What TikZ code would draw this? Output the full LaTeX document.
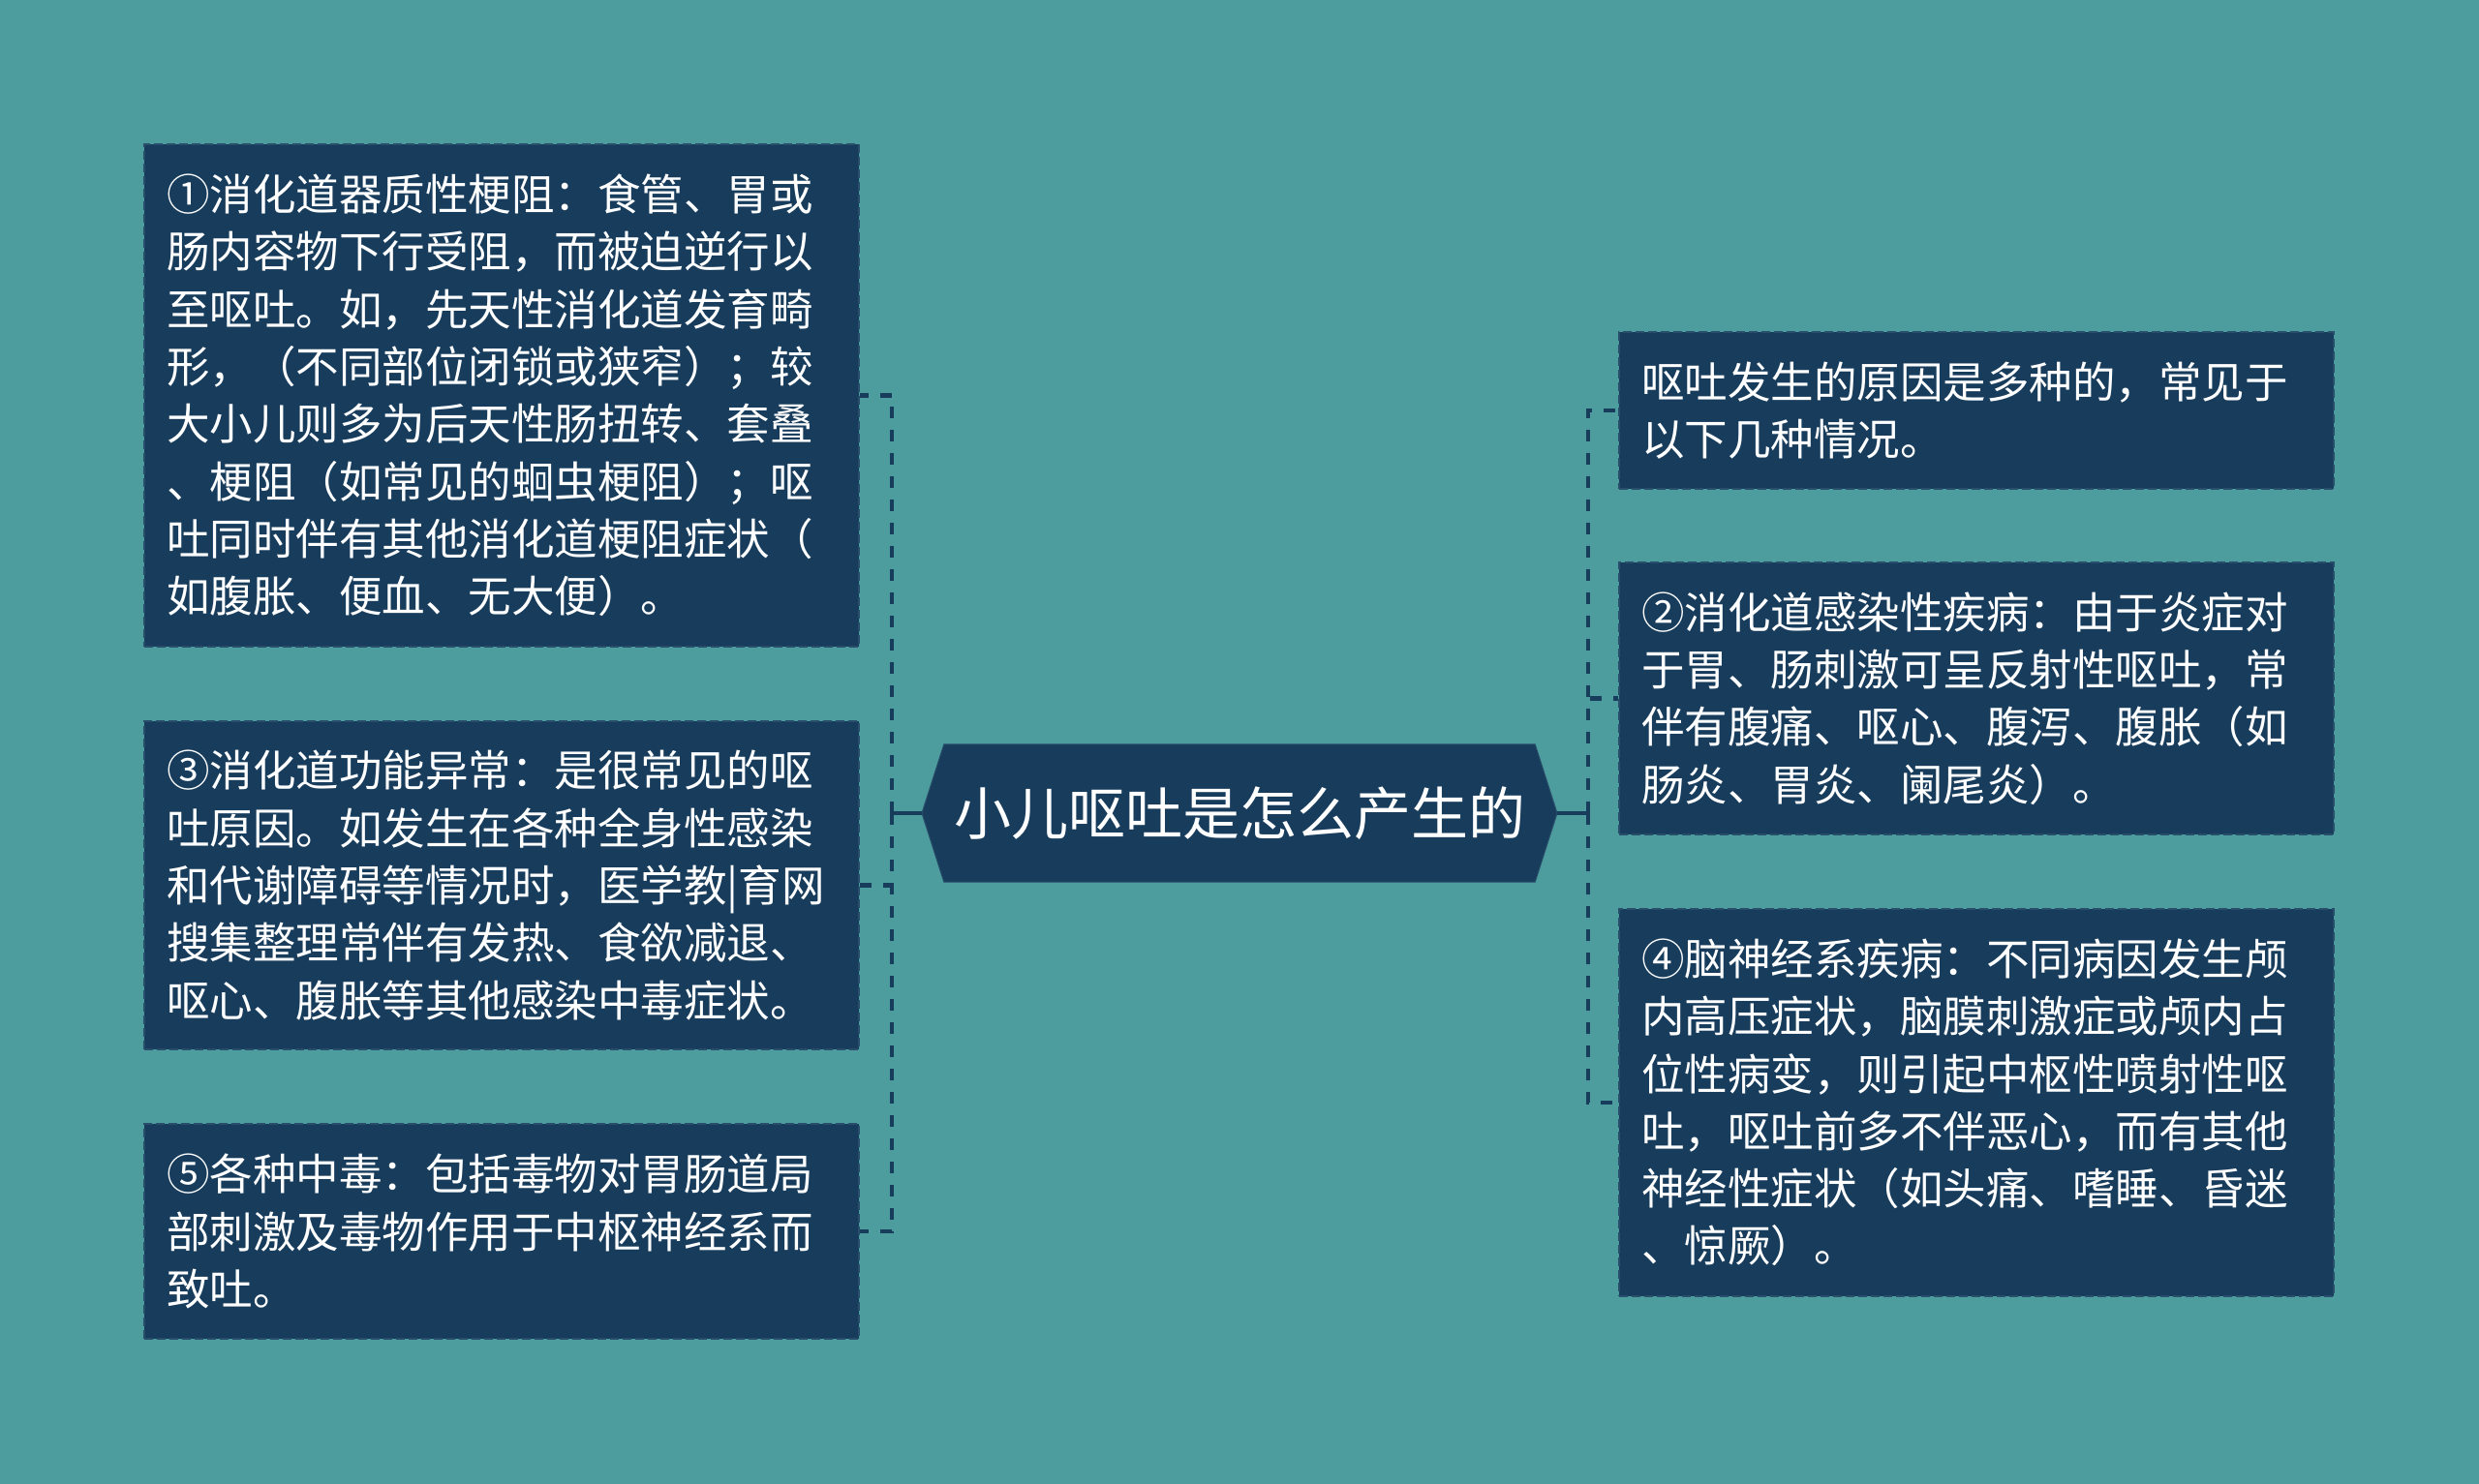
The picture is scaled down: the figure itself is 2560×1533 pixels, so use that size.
\documentclass[tikz,border=0pt]{standalone}
\usepackage{fontspec}
\setmainfont{Noto Sans CJK SC}
\newfontfamily\cjk{Noto Sans CJK SC}
\definecolor{bgteal}{RGB}{78,157,158}
\definecolor{navy}{RGB}{23,60,92}
\definecolor{boxedge}{RGB}{40,78,108}
\begin{document}
\begin{tikzpicture}[x=1pt,y=-1pt,
  leaf/.style={fill=navy,draw=boxedge,line width=1.8pt,dash pattern=on 9pt off 4pt,
    text=white,align=left,inner xsep=23pt,inner ysep=0pt,
    text width=692pt,minimum width=738pt,
    font=\cjk\fontsize{44.5}{59.3}\selectfont},
  conn/.style={draw=navy,line width=4.5pt,dash pattern=on 12pt off 12pt}]
\fill[bgteal] (0,0) rectangle (2560,1533);
\useasboundingbox (0,0) rectangle (2560,1533);

% central node
\node (c) [minimum width=610pt,minimum height=142pt,inner sep=0pt,text=white,
  font=\cjk\fontsize{59}{70}\selectfont] at (1280,840) {};
\coordinate (cl) at (952,840);
\coordinate (cr) at (1608,840);
\fill[navy,draw=boxedge,line width=1pt] (cl) -- (c.north west) -- (c.north east) -- (cr) -- (c.south east) -- (c.south west) -- cycle;
\node (ct) [text=white,inner sep=0pt,font=\cjk\fontsize{59}{70}\selectfont] at (c.center) {小儿呕吐是怎么产生的};

% left leaves
\node (L1) [leaf,minimum height=519pt] at (518,408.5) {①消化道器质性梗阻：食管、胃或\\肠内容物下行受阻，而被迫逆行以\\至呕吐。如，先天性消化道发育畸\\形，（不同部位闭锁或狭窄）；较\\大小儿则多为后天性肠扭转、套叠\\、梗阻（如常见的蛔虫梗阻）；呕\\吐同时伴有其他消化道梗阻症状（\\如腹胀、便血、无大便）。};
\node (L3) [leaf,minimum height=339pt] at (518,914.5) {③消化道功能异常：是很常见的呕\\吐原因。如发生在各种全身性感染\\和代谢障碍等情况时，医学教|育网\\搜集整理常伴有发热、食欲减退、\\呕心、腹胀等其他感染中毒症状。};
\node (L5) [leaf,minimum height=222pt] at (518,1272) {⑤各种中毒：包括毒物对胃肠道局\\部刺激及毒物作用于中枢神经系而\\致吐。};

% right leaves
\node (RA) [leaf,minimum height=162pt] at (2041,424) {呕吐发生的原因是多种的，常见于\\以下几种情况。};
\node (R2) [leaf,minimum height=281pt] at (2041,721.5) {②消化道感染性疾病：由于炎症对\\于胃、肠刺激可呈反射性呕吐，常\\伴有腹痛、呕心、腹泻、腹胀（如\\肠炎、胃炎、阑尾炎）。};
\node (R4) [leaf,minimum height=400pt] at (2041,1139) {④脑神经系疾病：不同病因发生颅\\内高压症状，脑膜刺激症或颅内占\\位性病变，则引起中枢性喷射性呕\\吐，呕吐前多不伴恶心，而有其他\\神经性症状（如头痛、嗜睡、昏迷\\、惊厥）。};

% connectors
\coordinate (lt) at (921,840);
\coordinate (rt) at (1640,840);
\draw[draw=navy,line width=4.5pt] (cl) -- (lt);
\draw[draw=navy,line width=4.5pt] (cr) -- (rt);
\draw[conn] (lt) |- (L1.east);
\draw[conn] (lt) |- (L3.east);
\draw[conn] (lt) |- (L5.east);
\draw[conn] (rt) |- (RA.west);
\draw[conn] (rt) |- (R2.west);
\draw[conn] (rt) |- (R4.west);
\end{tikzpicture}
\end{document}
